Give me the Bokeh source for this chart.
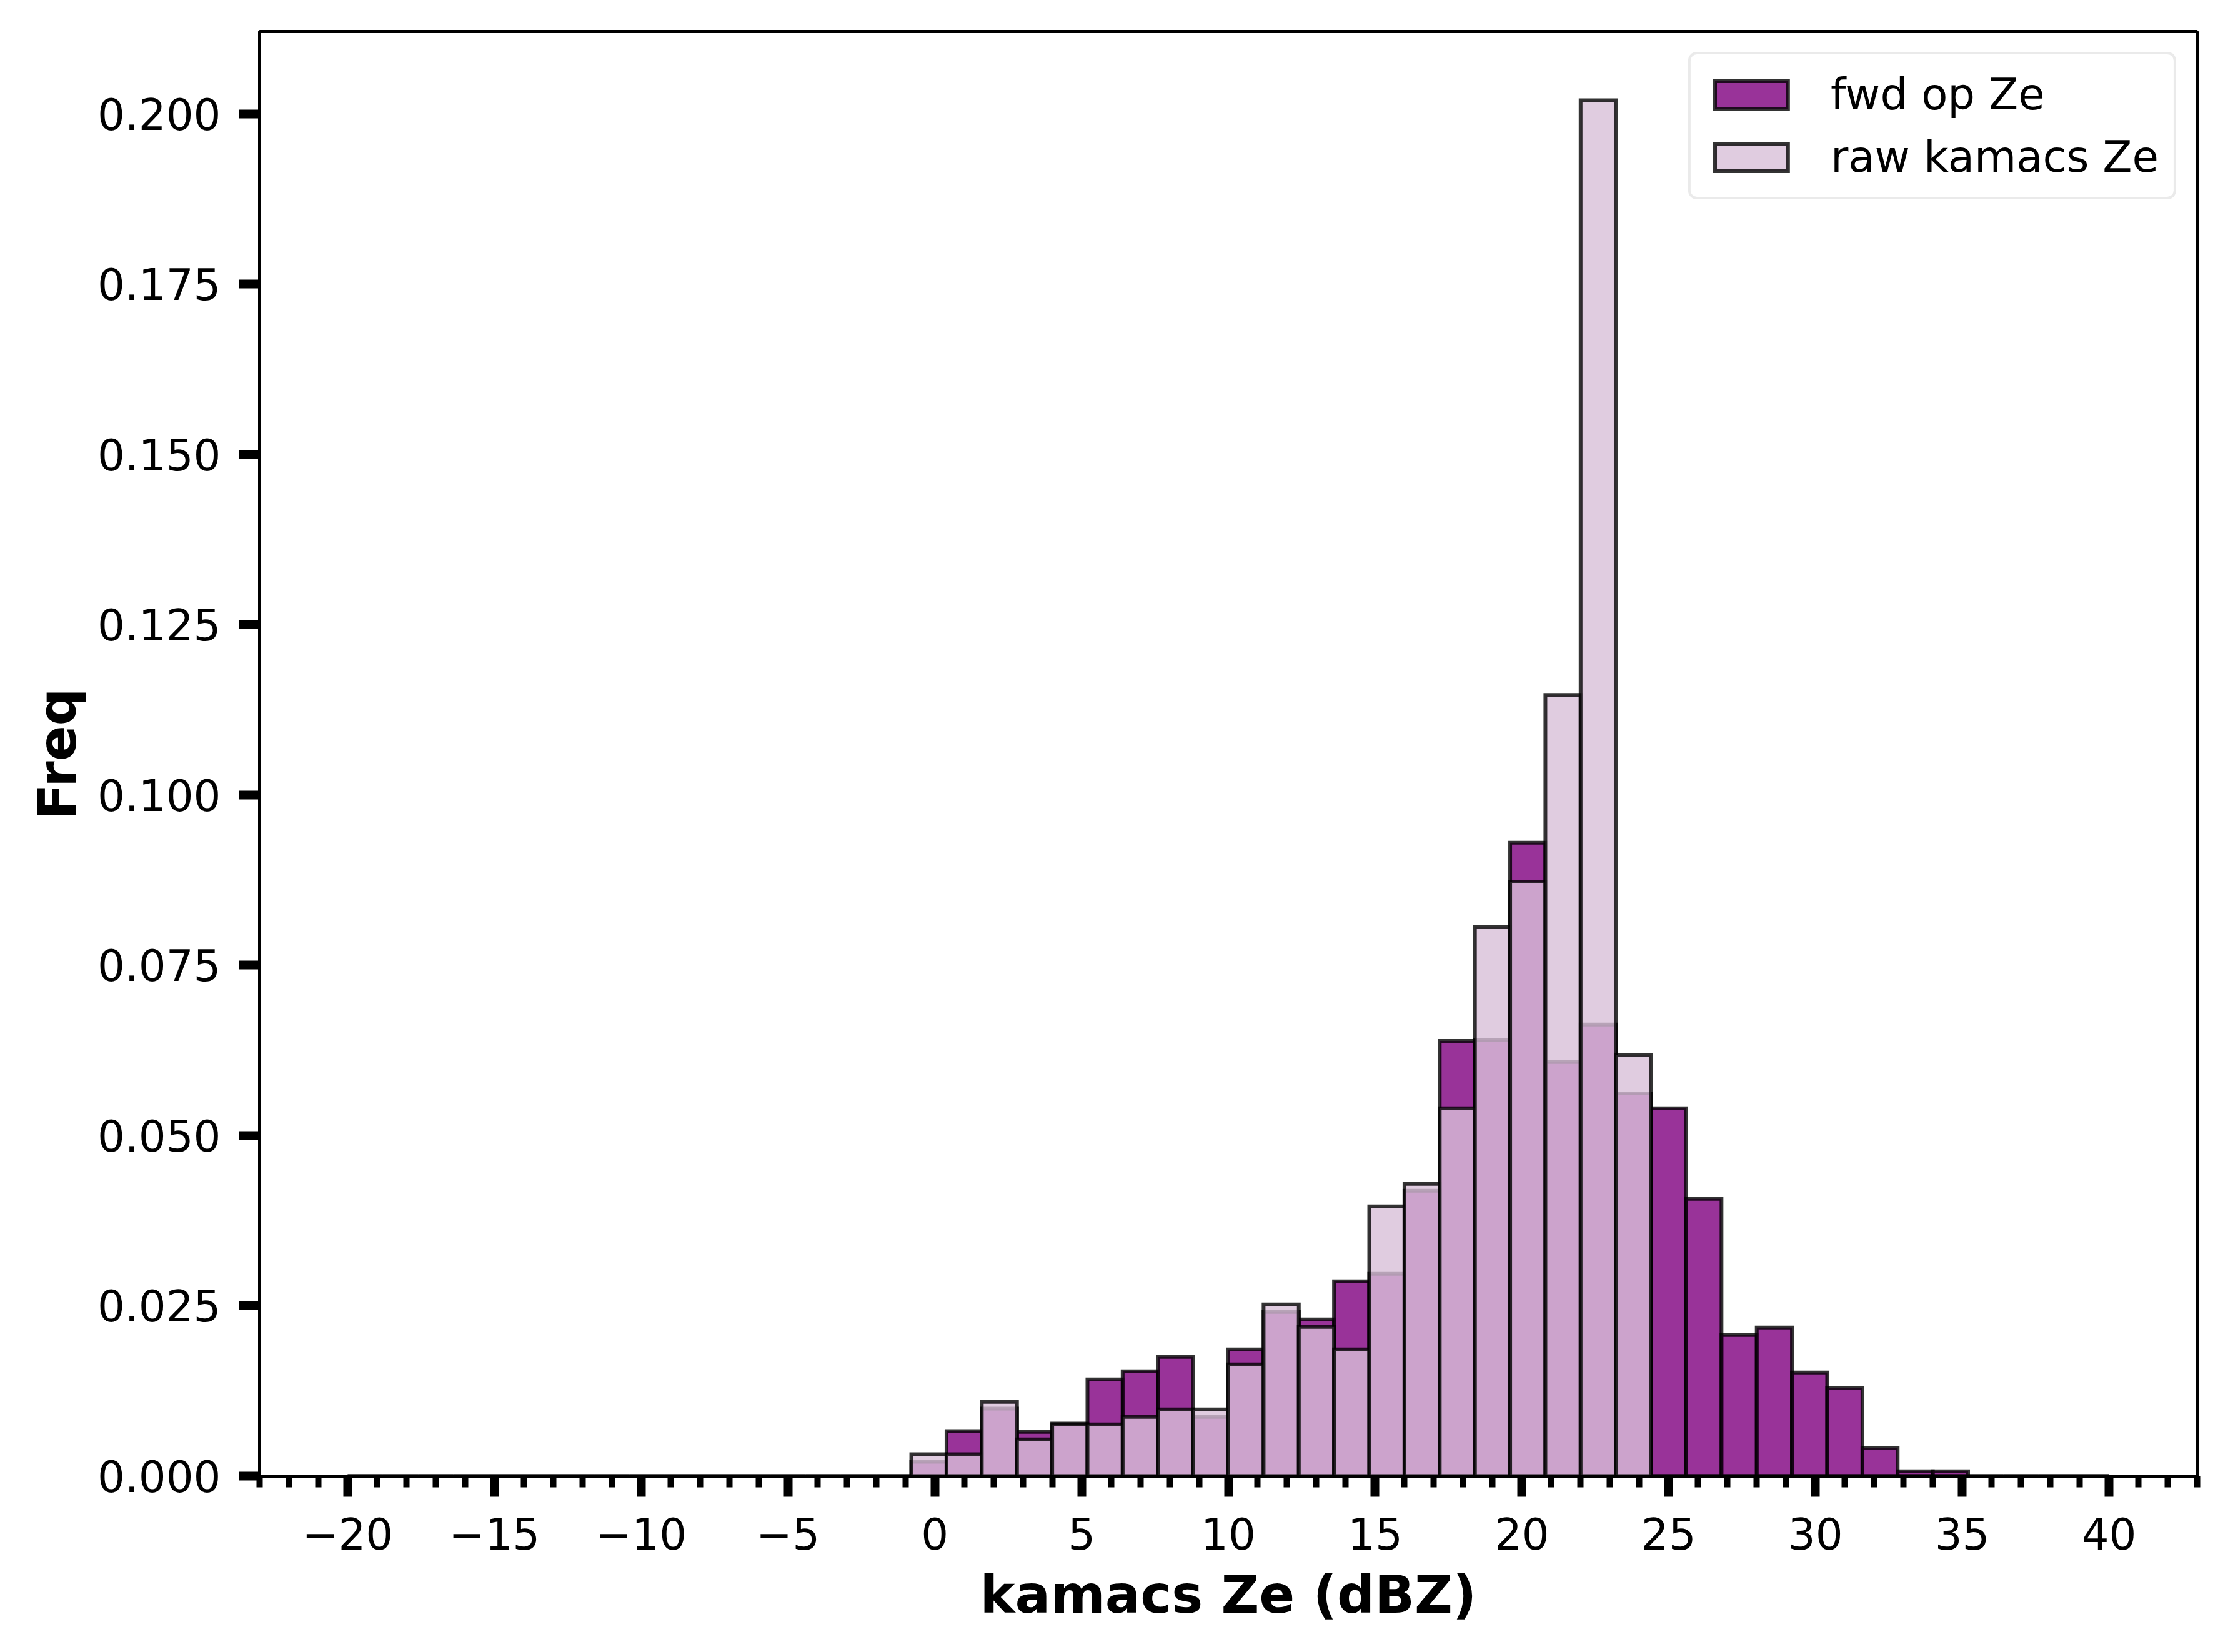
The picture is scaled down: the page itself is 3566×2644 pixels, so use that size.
import numpy as np
from bokeh.plotting import figure
from bokeh.models import Range1d, FixedTicker, NumeralTickFormatter, ColumnDataSource
from bokeh.embed import file_html
from bokeh.resources import INLINE


#########################################################
# data (density histograms, 50 bins of 1.2 dBZ from -20 to 40)
#########################################################

bin_edges = list(np.linspace(-20.0, 40.0, 51))

# forward operator Ze
fwd_freq = [0.0] * 16 + [
    0.0021, 0.0066, 0.0099, 0.0065, 0.0077, 0.0142, 0.0154, 0.0175, 0.0087, 0.0186,
    0.0241, 0.0230, 0.0286, 0.0297, 0.0419, 0.0639, 0.0640, 0.0930, 0.0608, 0.0663,
    0.0562, 0.0540, 0.0407, 0.0207, 0.0218, 0.0152, 0.0129, 0.0041, 0.0007, 0.0007,
] + [0.0] * 4

# raw kamacs Ze
raw_freq = [0.0] * 16 + [
    0.0032, 0.0032, 0.0109, 0.0054, 0.0076, 0.0076, 0.0087, 0.0098, 0.0098, 0.0164,
    0.0252, 0.0219, 0.0186, 0.0396, 0.0429, 0.0540, 0.0806, 0.0873, 0.1147, 0.2020,
    0.0618, 0.0, 0.0, 0.0, 0.0, 0.0, 0.0, 0.0, 0.0, 0.0,
] + [0.0] * 4

series_names = ["fwd op Ze", "raw kamacs Ze"]
series_colors = ["purple", "thistle"]

x_ticks = [-20, -15, -10, -5, 0, 5, 10, 15, 20, 25, 30, 35, 40]
x_tick_labels = ["\u221220", "\u221215", "\u221210", "\u22125", "0", "5", "10", "15", "20", "25", "30", "35", "40"]
x_minor_ticks = list(range(-23, 44))
y_ticks = [0.0, 0.025, 0.05, 0.075, 0.1, 0.125, 0.15, 0.175, 0.2]

x_label = "kamacs Ze (dBZ)"
y_label = "Freq"


#########################################################
# plotting
#########################################################

FONT = "DejaVu Sans"

p = figure(width=3550, height=2628, output_backend="svg", toolbar_location=None,
           x_range=Range1d(-23, 43), y_range=Range1d(0, 0.2121),
           x_axis_label=x_label, y_axis_label=y_label)

p.min_border_left = 415
p.min_border_right = 34
p.min_border_top = 50
p.min_border_bottom = 266

p.xgrid.grid_line_color = None
p.ygrid.grid_line_color = None
p.outline_line_color = "black"
p.outline_line_width = 5
p.background_fill_color = "white"
p.border_fill_color = "white"

for i, ys in enumerate([fwd_freq, raw_freq]):
    src = ColumnDataSource(dict(left=bin_edges[:-1], right=bin_edges[1:],
                                top=ys, bottom=[0.0] * len(ys)))
    p.quad(left="left", right="right", top="top", bottom="bottom", source=src,
           fill_color=series_colors[i], fill_alpha=0.8,
           line_color="black", line_alpha=0.8, line_width=6,
           line_join="miter", legend_label=series_names[i])

# axes
for ax in [p.xaxis[0], p.yaxis[0]]:
    ax.axis_line_width = 5
    ax.axis_line_color = "black"
    ax.major_tick_line_width = 14
    ax.major_tick_out = 33
    ax.major_tick_in = 0
    ax.minor_tick_line_width = 10
    ax.minor_tick_out = 18
    ax.minor_tick_in = 0
    ax.major_label_text_font = FONT
    ax.major_label_text_font_size = "69px"
    ax.major_label_text_color = "black"
    ax.axis_label_text_font = FONT
    ax.axis_label_text_font_size = "84px"
    ax.axis_label_text_font_style = "bold"
    ax.axis_label_text_color = "black"

p.xaxis.ticker = FixedTicker(ticks=x_ticks, minor_ticks=x_minor_ticks)
p.xaxis.major_label_overrides = dict(zip(x_ticks, x_tick_labels))
p.xaxis.major_label_standoff = 33
p.xaxis.axis_label_standoff = 20

p.yaxis.ticker = FixedTicker(ticks=y_ticks)
p.yaxis.formatter = NumeralTickFormatter(format="0.000")
p.yaxis.minor_tick_line_color = None
p.yaxis.major_label_standoff = 29
p.yaxis.axis_label_standoff = 12

# legend
lg = p.legend[0]
lg.location = "top_right"
lg.margin = 33
lg.label_text_font = FONT
lg.label_text_font_size = "69px"
lg.label_text_color = "black"
lg.glyph_width = 146
lg.glyph_height = 55
lg.label_standoff = 54
lg.spacing = 20
lg.padding = 24
lg.border_line_color = "#d6d6d6"
lg.border_line_width = 4
lg.background_fill_alpha = 0.8
if "border_radius" in lg.properties():
    lg.border_radius = 14

open("out.html", "w").write(file_html(p, INLINE))
